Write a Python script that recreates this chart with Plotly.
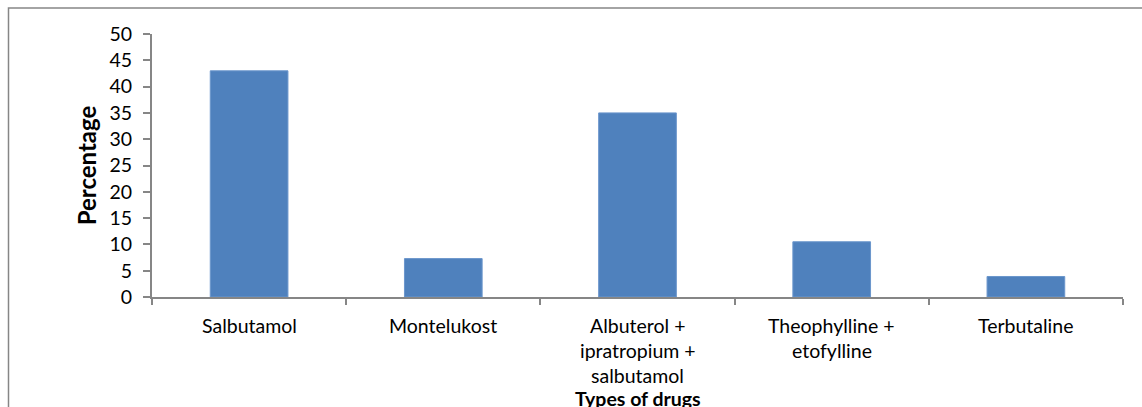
import plotly.graph_objects as go

categories = ["Salbutamol", "Montelukost", "Albuterol +<br>ipratropium +<br>salbutamol",
              "Theophylline +<br>etofylline", "Terbutaline"]
values = [43, 7.3, 35, 10.5, 3.9]
y_ticks = [0, 5, 10, 15, 20, 25, 30, 35, 40, 45, 50]
x_title = "Types of drugs"
y_title = "Percentage"

FONT = "Lato"
GREY = "#868686"

fig = go.Figure()
fig.add_trace(go.Bar(
    x=list(range(len(categories))), y=values,
    marker=dict(color="#4F81BD", line=dict(color="#6B96CC", width=1)),
    width=0.4,
))

annotations = []
for i, lab in enumerate(categories):
    for j, line in enumerate(lab.split("<br>")):
        annotations.append(dict(
            x=i, y=0, xref="x", yref="paper", text=line, showarrow=False,
            xanchor="center", yanchor="middle", yshift=-28.5 - 25 * j,
            font=dict(family=FONT, size=19.5, color="#000000"),
        ))
annotations.append(dict(
    x=0.5, y=0, xref="paper", yref="paper", text="<b>" + x_title + "</b>",
    showarrow=False, xanchor="center", yanchor="middle", yshift=-101,
    font=dict(family=FONT, size=19.5, color="#000000"),
))

fig.update_layout(
    width=1142, height=407,
    margin=dict(l=152, r=19, t=34, b=110, pad=0),
    paper_bgcolor="white", plot_bgcolor="white",
    showlegend=False,
    font=dict(family=FONT, size=19.5, color="#000000"),
    xaxis=dict(
        range=[-0.5, len(categories) - 0.5],
        tickmode="array", tickvals=[i - 0.5 for i in range(len(categories) + 1)],
        ticktext=[""] * (len(categories) + 1),
        showline=True, linecolor=GREY, linewidth=2,
        ticks="outside", ticklen=6, tickcolor=GREY, tickwidth=2,
        showgrid=False, zeroline=False,
    ),
    yaxis=dict(
        range=[0, 50], tickvals=y_ticks,
        showline=True, linecolor=GREY, linewidth=2,
        ticks="outside", ticklen=7, tickcolor=GREY, tickwidth=2,
        showgrid=False, zeroline=False,
        tickfont=dict(family=FONT, size=19.5),
        ticklabelstandoff=7,
        title=dict(text="<b>" + y_title + "</b>", font=dict(family=FONT, size=24), standoff=6),
    ),
    annotations=annotations,
    shapes=[dict(
        type="rect", xref="paper", yref="paper",
        x0=(8.5 - 152) / 971, x1=1.05, y0=-0.6, y1=(297.5 - 8.5) / 263,
        line=dict(color=GREY, width=1.5), fillcolor="rgba(0,0,0,0)", layer="below",
    )],
)

fig.write_html("out.html")
